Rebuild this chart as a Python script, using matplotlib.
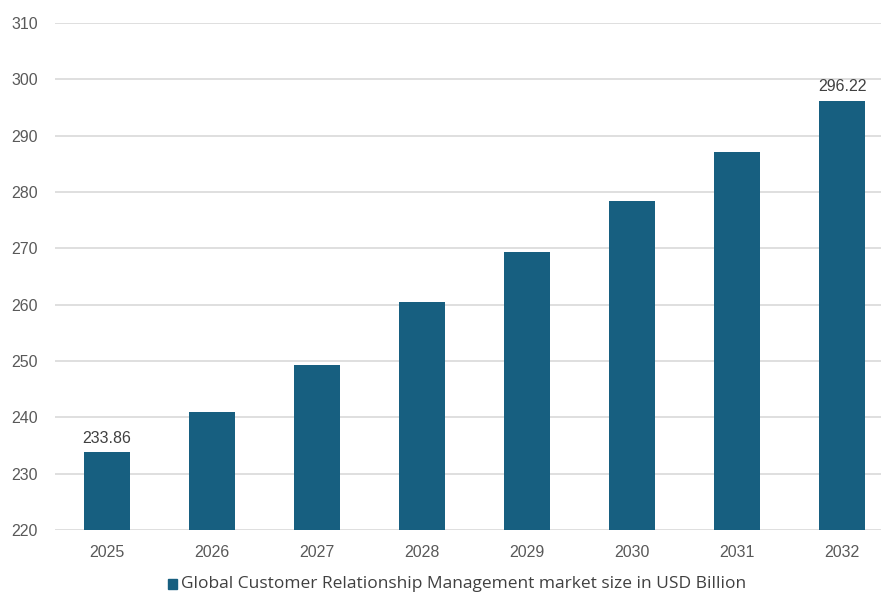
import matplotlib.pyplot as plt
from matplotlib.patches import Rectangle
import numpy as np

years = ["2025", "2026", "2027", "2028", "2029", "2030", "2031", "2032"]
market_size = [233.86, 241.0, 249.3, 260.5, 269.4, 278.4, 287.1, 296.22]
labelled = {0: "233.86", 7: "296.22"}
series_name = "Global Customer Relationship Management market size in USD Billion"

bar_color = "#175f80"

fig = plt.figure(figsize=(8.81, 5.93), dpi=100)
ax = fig.add_axes([0.0619, 0.1062, 0.9535, 0.855])

x = np.arange(len(years))
ax.bar(x, np.array(market_size) - 220, bottom=220, width=0.44, color=bar_color, zorder=3)

for i, txt in labelled.items():
    ax.text(x[i], market_size[i] + 1.1, txt, ha="center", va="bottom",
            fontsize=11.5, color="#404040", family="Liberation Sans")

ax.set_xlim(-0.5, len(years) - 0.5)
ax.set_ylim(220, 310)
ax.set_yticks(np.arange(220, 311, 10))
ax.set_xticks(x)
ax.set_xticklabels(years)
ax.yaxis.grid(True, color="#d9d9d9", linewidth=1.2, zorder=0)
for sp in ax.spines.values():
    sp.set_visible(False)
ax.tick_params(axis="both", length=0, labelsize=11.5, labelcolor="#595959")
ax.tick_params(axis="y", pad=12)
ax.tick_params(axis="x", pad=11)
for lbl in ax.get_xticklabels() + ax.get_yticklabels():
    lbl.set_family("Liberation Sans")

# legend entry (square marker + text), sits low like the original
fig.add_artist(Rectangle((168 / 881, 4 / 593), 9 / 881, 10 / 593,
                         transform=fig.transFigure, color=bar_color))
fig.text(181 / 881, 9 / 593, series_name, color="#404040", fontsize=12.5,
         va="center", ha="left", family="Open Sans")

fig.savefig("out.png", dpi=100)
